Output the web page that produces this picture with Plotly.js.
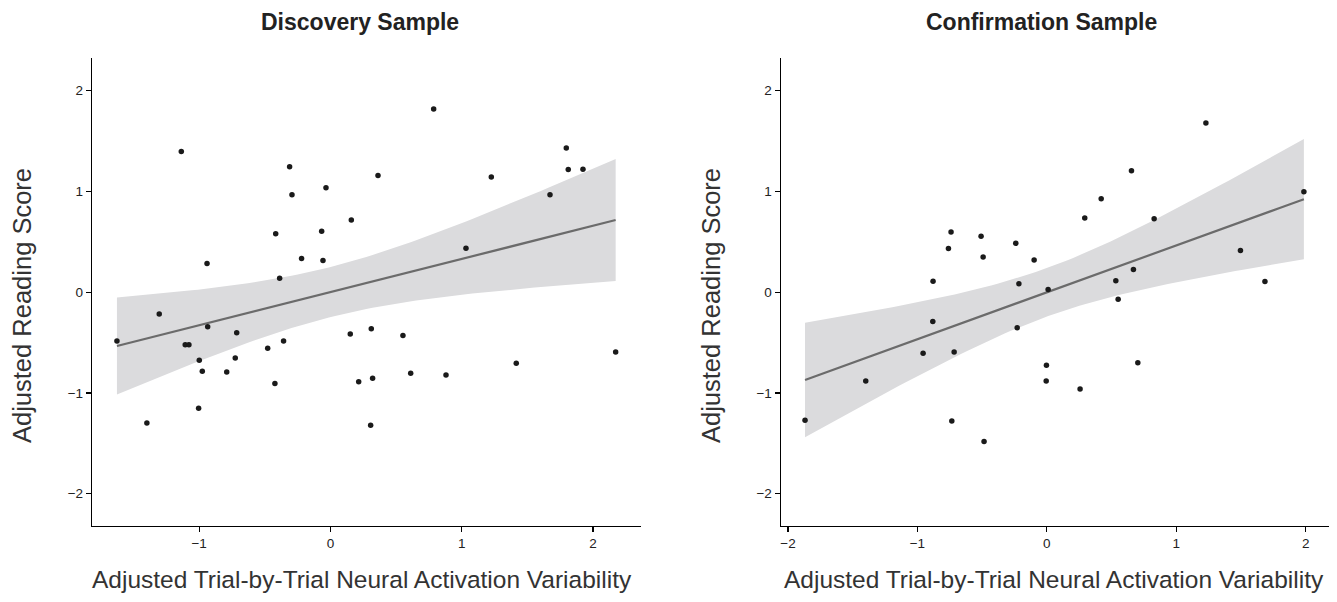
<!DOCTYPE html>
<html>
<head>
<meta charset="utf-8">
<script src="https://cdn.plot.ly/plotly-3.0.1.min.js"></script>
<style>
  html, body { margin: 0; padding: 0; background: #fff; }
  #chart { width: 1337px; height: 602px; }
</style>
</head>
<body>
<div id="chart"></div>
<script>
// ---- Data ----
const panelTitles = ["Discovery Sample", "Confirmation Sample"];
const xAxisTitle = "Adjusted Trial-by-Trial Neural Activation Variability";
const yAxisTitle = "Adjusted Reading Score";
const yTickVals = [-2, -1, 0, 1, 2];
const discTickVals = [-1, 0, 1, 2];
const confTickVals = [-2, -1, 0, 1, 2];

const discX = [-1.136, -0.94, -0.311, -0.293, -0.034, -0.417, -0.067, 0.159, -0.22, -0.057, -0.387, 0.362, 0.786, 1.225, 1.796, 1.811, 1.923, 1.672, 1.032, -1.626, -1.304, -0.935, -0.714, -1.106, -1.078, -0.999, -0.976, -0.79, -0.725, -0.478, -0.357, -0.423, -1.004, -1.398, 0.151, 0.311, 0.215, 0.321, 0.306, 0.552, 0.611, 0.88, 1.415, 2.172];
const discY = [1.396, 0.284, 1.245, 0.967, 1.037, 0.581, 0.604, 0.716, 0.334, 0.314, 0.139, 1.159, 1.819, 1.142, 1.43, 1.218, 1.221, 0.967, 0.436, -0.485, -0.217, -0.343, -0.402, -0.521, -0.521, -0.676, -0.785, -0.792, -0.653, -0.557, -0.485, -0.907, -1.152, -1.297, -0.415, -0.363, -0.888, -0.855, -1.32, -0.429, -0.805, -0.821, -0.706, -0.594];

const confX = [-0.74, -0.76, -0.508, -0.492, -0.24, -0.098, -0.879, -0.216, 0.01, 1.229, 0.654, 0.42, 0.293, 0.829, 1.986, 1.496, 0.669, 0.533, 0.551, 1.685, -0.881, -0.229, -0.956, -0.716, -1.399, -0.003, -0.005, -1.868, -0.734, -0.485, 0.703, 0.257];
const confY = [0.598, 0.433, 0.555, 0.35, 0.485, 0.32, 0.109, 0.083, 0.027, 1.68, 1.205, 0.928, 0.736, 0.73, 0.997, 0.413, 0.225, 0.113, -0.069, 0.106, -0.29, -0.353, -0.607, -0.594, -0.881, -0.726, -0.881, -1.27, -1.277, -1.481, -0.699, -0.96];

// two-sided 95% t critical values for df = n - 2
const tCrit = { disc: 2.018, conf: 2.042 };

// ---- Linear fit with 95% confidence band (as in geom_smooth(method = "lm")) ----
function lmBand(xs, ys, t) {
  const n = xs.length;
  const mx = xs.reduce((a, b) => a + b, 0) / n;
  const my = ys.reduce((a, b) => a + b, 0) / n;
  let sxx = 0, sxy = 0;
  for (let i = 0; i < n; i++) { sxx += (xs[i] - mx) ** 2; sxy += (xs[i] - mx) * (ys[i] - my); }
  const b1 = sxy / sxx, b0 = my - b1 * mx;
  let sse = 0;
  for (let i = 0; i < n; i++) sse += (ys[i] - b0 - b1 * xs[i]) ** 2;
  const s = Math.sqrt(sse / (n - 2));
  const lo = Math.min(...xs), hi = Math.max(...xs);
  const gx = [], fit = [], low = [], up = [];
  const steps = 80;
  for (let k = 0; k <= steps; k++) {
    const x = lo + (hi - lo) * k / steps;
    const f = b0 + b1 * x;
    const se = s * Math.sqrt(1 / n + (x - mx) ** 2 / sxx);
    gx.push(x); fit.push(f); low.push(f - t * se); up.push(f + t * se);
  }
  return { gx, fit, low, up };
}

const FONT = "Liberation Sans, Arial, Helvetica, sans-serif";
const bandColor = "#dbdbdd";
const lineColor = "#6b6b6b";
const dotColor = "#1a1a1a";

function panelTraces(xs, ys, t, xa, ya) {
  const b = lmBand(xs, ys, t);
  return [
    { x: b.gx, y: b.low, mode: "lines", line: { width: 0, color: bandColor }, xaxis: xa, yaxis: ya, hoverinfo: "skip", showlegend: false },
    { x: b.gx, y: b.up, mode: "lines", line: { width: 0, color: bandColor }, fill: "tonexty", fillcolor: bandColor, xaxis: xa, yaxis: ya, hoverinfo: "skip", showlegend: false },
    { x: b.gx, y: b.fit, mode: "lines", line: { width: 2.2, color: lineColor }, xaxis: xa, yaxis: ya, showlegend: false },
    { x: xs, y: ys, mode: "markers", marker: { size: 5.5, color: dotColor }, xaxis: xa, yaxis: ya, showlegend: false }
  ];
}

const data = [].concat(
  panelTraces(discX, discY, tCrit.disc, "x", "y"),
  panelTraces(confX, confY, tCrit.conf, "x2", "y2")
);

const W = 1337, H = 602;
const yDom = [(H - 526) / H, (H - 58.4) / H];

function xAxis(domain, range, ticks, anchor) {
  return {
    domain, range, anchor, tickvals: ticks, showgrid: false, zeroline: false,
    showline: true, linecolor: "#000", linewidth: 1.2,
    ticks: "outside", ticklen: 5, tickwidth: 1.2, tickcolor: "#000",
    tickfont: { family: FONT, size: 13.5, color: "#222" }
  };
}
function yAxis(range, anchor) {
  return {
    domain: yDom, range, anchor, tickvals: yTickVals, showgrid: false, zeroline: false,
    showline: true, linecolor: "#000", linewidth: 1.2,
    ticks: "outside", ticklen: 5, tickwidth: 1.2, tickcolor: "#000",
    tickfont: { family: FONT, size: 13.5, color: "#222" }
  };
}

const ann = [];
function addText(text, xpx, ypx, size, bold, angle) {
  ann.push({
    text: bold ? "<b>" + text + "</b>" : text,
    x: xpx / W, y: 1 - ypx / H, xref: "paper", yref: "paper",
    xanchor: "center", yanchor: "middle", showarrow: false, textangle: angle || 0,
    font: { family: FONT, size, color: bold ? "#222" : "#333" }
  });
}
addText(panelTitles[0], 360, 22, 23, true);
addText(panelTitles[1], 1041, 22, 23, true);
addText(xAxisTitle, 362, 579, 24.5, false);
addText(xAxisTitle, 1054, 579, 24.5, false);
addText(yAxisTitle, 22, 306, 25.5, false, -90);
addText(yAxisTitle, 711, 306, 25.5, false, -90);

const layout = {
  width: W, height: H,
  margin: { l: 0, r: 0, t: 0, b: 0 },
  paper_bgcolor: "#fff", plot_bgcolor: "#fff",
  showlegend: false,
  xaxis: xAxis([92 / W, 641 / W], [-1.816, 2.365], discTickVals, "y"),
  yaxis: yAxis([-2.32, 2.32], "x"),
  xaxis2: xAxis([780.7 / W, 1329 / W], [-2.056, 2.18], confTickVals, "y2"),
  yaxis2: yAxis([-2.32, 2.32], "x2"),
  annotations: ann,
  font: { family: FONT }
};

Plotly.newPlot("chart", data, layout, { staticPlot: true, displayModeBar: false });
</script>
</body>
</html>
